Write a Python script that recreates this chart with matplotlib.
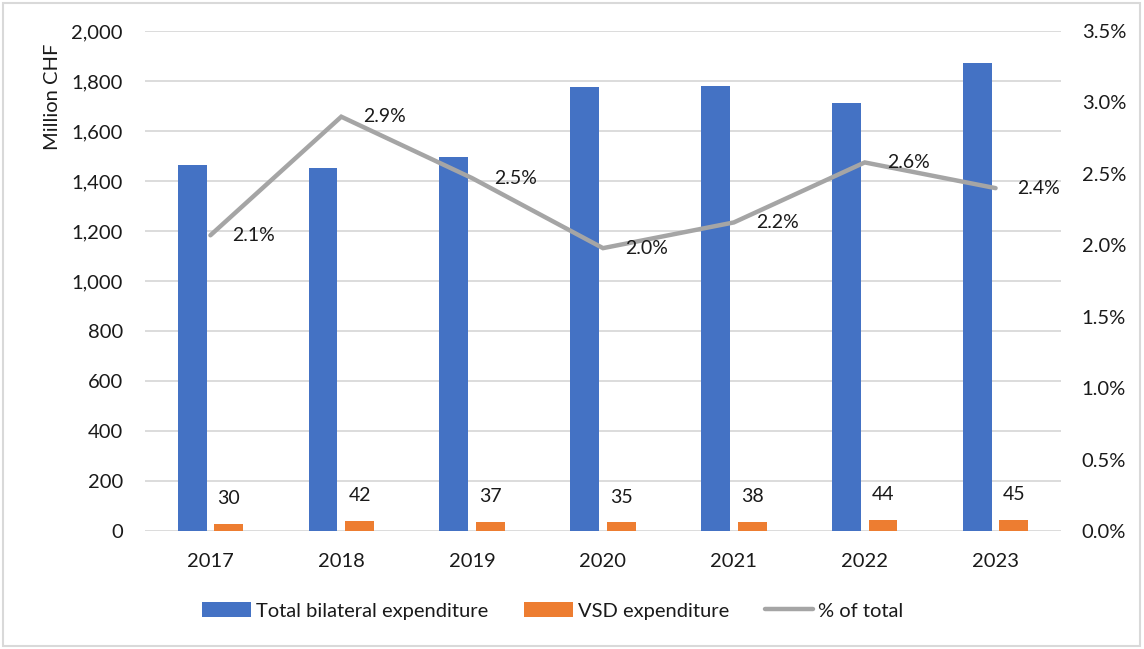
import matplotlib
matplotlib.use("Agg")
import matplotlib.pyplot as plt
from matplotlib.patches import Rectangle, Patch
from matplotlib.lines import Line2D
from matplotlib.ticker import FuncFormatter, MultipleLocator
import numpy as np

plt.rcParams['font.family'] = ['Lato', 'DejaVu Sans']

# data
years = ["2017", "2018", "2019", "2020", "2021", "2022", "2023"]
total_bilateral = [1464, 1452, 1496, 1776, 1780, 1712, 1872]
vsd = [30, 42, 37, 35, 38, 44, 45]
pct_total = [2.07, 2.90, 2.47, 1.98, 2.16, 2.58, 2.40]

BLUE = "#4472C4"
ORANGE = "#ED7D31"
GRAY = "#A5A5A5"
GRID = "#D9D9D9"
TXT = "#1a1a1a"

fig = plt.figure(figsize=(11.44, 6.49), dpi=100)
ax = fig.add_axes([145 / 1144, 118 / 649, 916 / 1144, 500 / 649])
ax2 = ax.twinx()

x = np.arange(len(years))
w = 0.22
off = 0.14
ax.bar(x - off, total_bilateral, w, color=BLUE, zorder=3)
ax.bar(x + off, vsd, w, color=ORANGE, zorder=3)

for xi, v in zip(x, vsd):
    ax.annotate(str(v), (xi + off, v), xytext=(0, 25), textcoords="offset pixels",
                ha="center", va="center", fontsize=14, color=TXT, zorder=5)

ax.set_xlim(-0.5, 6.5)
ax.set_ylim(0, 2000)
ax.yaxis.set_major_locator(MultipleLocator(200))
ax.yaxis.set_major_formatter(FuncFormatter(lambda v, p: f"{v:,.0f}"))
ax.set_xticks(x)
ax.set_xticklabels(years)
ax.grid(axis="y", color=GRID, linewidth=1.3, zorder=0)
ax.set_axisbelow(True)
for s in ax.spines.values():
    s.set_visible(False)
for s in ax2.spines.values():
    s.set_visible(False)
ax.tick_params(axis="both", length=0, labelsize=14.5, colors=TXT)
ax.tick_params(axis="y", pad=16)
ax.tick_params(axis="x", pad=16)

ax2.plot(x, pct_total, color=GRAY, linewidth=3.2, solid_capstyle="round",
         solid_joinstyle="miter", zorder=4)
for xi, p in zip(x, pct_total):
    ax2.annotate(f"{p:.1f}%", (xi, p), xytext=(22, 0), textcoords="offset pixels",
                 ha="left", va="center", fontsize=14, color=TXT, zorder=5)
ax2.set_ylim(0, 3.5)
ax2.yaxis.set_major_locator(MultipleLocator(0.5))
ax2.yaxis.set_major_formatter(FuncFormatter(lambda v, p: f"{v:.1f}%"))
ax2.tick_params(axis="y", length=0, labelsize=14.5, colors=TXT, pad=15)

fig.text(52 / 1144, 1 - 97 / 649, "Million CHF", rotation=90, ha="center",
         va="center", fontsize=14.5, color=TXT)

handles = [Patch(facecolor=BLUE), Patch(facecolor=ORANGE),
           Line2D([0], [0], color=GRAY, linewidth=3.2, solid_capstyle="round")]
labels = ["Total bilateral expenditure", "VSD expenditure", "% of total"]
fig.legend(handles, labels, loc="center", bbox_to_anchor=(553 / 1144, 1 - 611 / 649),
           ncol=3, frameon=False, fontsize=14.5, handlelength=2.4, handleheight=0.75,
           handletextpad=0.25, columnspacing=1.8, labelcolor=TXT)

fig.patches.append(Rectangle((3 / 1144, 3 / 649), 1137 / 1144, 643 / 649,
                             transform=fig.transFigure, fill=False,
                             edgecolor=GRID, linewidth=1.5))

fig.savefig("out.png", dpi=100)
